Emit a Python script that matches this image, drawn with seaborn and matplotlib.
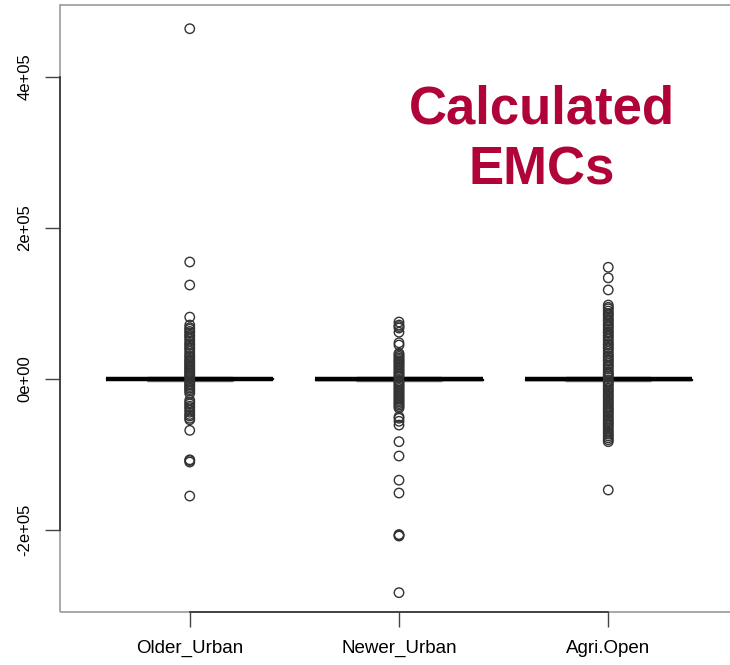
import matplotlib
matplotlib.use("Agg")
import matplotlib.pyplot as plt
from matplotlib.patches import Rectangle
import seaborn as sns
import pandas as pd

# groups shown on the x axis
groups = ['Older_Urban', 'Newer_Urban', 'Agri.Open']

# bulk of the values (box and whiskers collapse around zero)
older_core = [-1800, -900, -300, 0, 400, 1000, 1900]
newer_core = [-1900, -1000, -400, 0, 300, 900, 1800]
agri_core = [-1800, -1000, -300, 0, 300, 1000, 1900]

# outliers
older_out = [464000, 155000, 124500, 82000, 71500, 68000, 66000, 63000, 61000, 58000,
             56000, 53000, 50000, 47000, 45000, 42000, 40000, 37000, 34000, 31000,
             29000, 26000, 24000, 22000, 20000, 18000, 16000, 14000, 12000, 10000,
             8000, 6000, 4000, 2000, -2000, -4000, -6000, -8000, -10000, -12000,
             -14000, -16000, -19000, -28000, -31000, -33000, -36000, -38000, -41000,
             -44000, -47000, -49000, -52000, -54000, -68000, -107000, -108000,
             -110000, -155000]
newer_out = [75500, 71500, 69500, 67500, 62000, 48000, 45000, 34000, 32000, 30000,
             28000, 26000, 24000, 22500, 20500, 18500, 16500, 14500, 12500, 10500,
             8500, 6600, 4600, 2600, -2600, -4600, -6600, -8500, -10500, -12500,
             -14500, -16500, -18500, -20500, -22500, -24500, -26500, -28500, -30500,
             -32500, -34500, -36500, -38500, -50000, -52000, -56000, -61000, -83000,
             -102000, -134000, -151000, -206000, -207000, -208000, -283000]
agri_out = [148000, 134000, 118000, 98000, 95000, 93000, 90000, 87000, 85000, 82000,
            79000, 77000, 74000, 71500, 69000, 66000, 63000, 61000, 58000, 56000,
            53000, 50000, 47000, 45000, 42000, 40000, 37000, 34000, 31000, 29000,
            26000, 24000, 21000, 18500, 16000, 13000, 10000, 8000, 6000, 4000, 2000,
            -2000, -4000, -6500, -9000, -12000, -14500, -17000, -20000, -22500,
            -25000, -28000, -30500, -33000, -36000, -38500, -41000, -43500, -46000,
            -49000, -52000, -54500, -57000, -59500, -62000, -65000, -68000, -70500,
            -73000, -75500, -78000, -80500, -83000, -147000]

yticks = [-2e5, 0, 2e5, 4e5]
ytick_labels = ['-2e+05', '0e+00', '2e+05', '4e+05']

core = pd.DataFrame({
    'group': [groups[0]] * len(older_core) + [groups[1]] * len(newer_core) + [groups[2]] * len(agri_core),
    'value': older_core + newer_core + agri_core,
})
outl = pd.DataFrame({
    'group': [groups[0]] * len(older_out) + [groups[1]] * len(newer_out) + [groups[2]] * len(agri_out),
    'value': older_out + newer_out + agri_out,
})

sns.set_style('white')
plt.rcParams['font.family'] = ['Liberation Sans', 'DejaVu Sans']

fig = plt.figure(figsize=(7.3, 6.65), dpi=100)
ax = fig.add_axes([60 / 730, 53 / 665, 678 / 730, 607 / 665])

sns.boxplot(data=core, x='group', y='value', order=groups, ax=ax, width=0.8,
            color='white', linecolor='black', linewidth=1, showfliers=False,
            medianprops=dict(color='black', linewidth=3.2),
            capprops=dict(color='#777777', linewidth=2.5),
            whiskerprops=dict(color='#555555', linewidth=1))
sns.stripplot(data=outl, x='group', y='value', order=groups, ax=ax, jitter=False,
              size=6.8, marker='o', color='black', facecolor='none',
              edgecolor='#333333', linewidth=1.0)

ax.set_xlim(-0.62, 2.62)
ax.set_ylim(-308600, 495400)
ax.set_xlabel('')
ax.set_ylabel('')

ax.set_yticks(yticks)
ax.set_yticklabels(ytick_labels, rotation=90, va='center', fontsize=12)
ax.tick_params(axis='x', labelsize=13.5, length=11, pad=9, width=1,
               color='#444444', labelcolor='black', bottom=True)
ax.tick_params(axis='y', length=11, pad=9, width=1, color='#444444',
               labelcolor='black', left=True)

for side in ['top', 'right']:
    ax.spines[side].set_visible(False)
ax.spines['left'].set_bounds(-2e5, 4e5)
ax.spines['bottom'].set_bounds(0, 2)
for side in ['left', 'bottom']:
    ax.spines[side].set_color('#333333')
    ax.spines[side].set_linewidth(1.2)
ax.add_patch(Rectangle((0, 0), 1, 1, transform=ax.transAxes, fill=False,
                       edgecolor='#999999', linewidth=1.2, clip_on=False, zorder=0))

fig.text(542 / 730, 1 - 140 / 665, 'Calculated\nEMCs', ha='center', va='center',
         fontsize=38, fontweight='bold', color='#B00337', linespacing=1.27)

fig.savefig('out.png', dpi=100)
